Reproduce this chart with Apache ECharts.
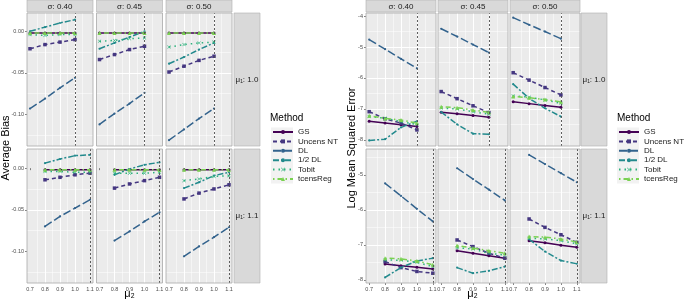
<!DOCTYPE html>
<html><head><meta charset="utf-8">
<script src="https://cdn.jsdelivr.net/npm/echarts@6/dist/echarts.min.js"></script>
<style>html,body{margin:0;padding:0;background:#fff}#c{width:685px;height:300px}</style>
</head><body><div id="c"></div>
<script>
// ---------- data ----------
const methods = ['GS', 'Uncens NT', 'DL', '1/2 DL', 'Tobit', 'tcensReg'];
const xMu10 = [0.7, 0.8, 0.9, 1.0];
const xMu11 = [0.8, 0.9, 1.0, 1.1];
const refMu2 = [1.0, 1.1];
const sigmaLabels = ['σ: 0.40', 'σ: 0.45', 'σ: 0.50'];
const mu1Labels = ['μ₁: 1.0', 'μ₁: 1.1'];
const xTicks = [0.7, 0.8, 0.9, 1.0, 1.1];
const biasTicks = [-0.10, -0.05, 0.00];
const mseTicks = [-8, -7, -6, -5, -4];

// panels order: [mu1=1.0: s0.40, s0.45, s0.50, mu1=1.1: s0.40, s0.45, s0.50]
const biasGS = [
  [-0.002, -0.002, -0.002, -0.002], [-0.002, -0.002, -0.002, -0.002], [-0.002, -0.002, -0.002, -0.002],
  [-0.002, -0.002, -0.002, -0.002], [-0.002, -0.002, -0.002, -0.002], [-0.002, -0.002, -0.002, -0.002]];
const biasUncens = [
  [-0.021, -0.016, -0.013, -0.010], [-0.034, -0.028, -0.022, -0.018], [-0.049, -0.042, -0.035, -0.030],
  [-0.014, -0.011, -0.008, -0.006], [-0.024, -0.019, -0.015, -0.011], [-0.037, -0.030, -0.025, -0.020]];
const biasDL = [
  [-0.093, -0.081, -0.068, -0.056], [-0.112, -0.099, -0.087, -0.074], [-0.131, -0.118, -0.105, -0.093],
  [-0.070, -0.058, -0.048, -0.038], [-0.087, -0.076, -0.064, -0.053], [-0.106, -0.094, -0.083, -0.071]];
const biasHalfDL = [
  [0.000, 0.005, 0.010, 0.014], [-0.021, -0.014, -0.007, 0.000], [-0.039, -0.031, -0.022, -0.014],
  [0.006, 0.011, 0.015, 0.016], [-0.008, -0.001, 0.004, 0.007], [-0.024, -0.017, -0.009, -0.005]];
const biasTobit = [
  [-0.004, -0.005, -0.004, -0.004], [-0.012, -0.011, -0.009, -0.008], [-0.019, -0.016, -0.014, -0.013],
  [-0.004, -0.004, -0.005, -0.005], [-0.006, -0.006, -0.006, -0.005], [-0.015, -0.013, -0.010, -0.009]];
const biasTcens = [
  [-0.002, -0.002, -0.002, -0.002], [-0.002, -0.002, -0.002, -0.002], [-0.002, -0.002, -0.002, -0.002],
  [-0.002, -0.002, -0.002, -0.002], [-0.002, -0.002, -0.002, -0.002], [-0.002, -0.002, -0.002, -0.002]];

const mseGS = [
  [-7.40, -7.46, -7.51, -7.57], [-7.11, -7.16, -7.21, -7.27], [-6.77, -6.83, -6.89, -6.95],
  [-7.55, -7.60, -7.64, -7.69], [-7.17, -7.24, -7.31, -7.38], [-6.88, -6.94, -7.01, -7.07]];
const mseUncens = [
  [-7.09, -7.32, -7.46, -7.68], [-6.44, -6.67, -6.90, -7.12], [-5.83, -6.07, -6.31, -6.55],
  [-7.48, -7.65, -7.76, -7.81], [-6.86, -7.05, -7.24, -7.38], [-6.26, -6.50, -6.71, -6.93]];
const mseDL = [
  [-4.76, -5.07, -5.38, -5.69], [-4.41, -4.66, -4.92, -5.18], [-4.05, -4.28, -4.50, -4.73],
  [-5.24, -5.60, -5.97, -6.33], [-4.81, -5.12, -5.42, -5.73], [-4.43, -4.69, -4.95, -5.21]];
const mseHalfDL = [
  [-8.02, -7.98, -7.60, -7.40], [-7.10, -7.50, -7.80, -7.82], [-6.20, -6.66, -6.98, -7.25],
  [-7.93, -7.65, -7.46, -7.38], [-7.65, -7.81, -7.74, -7.62], [-6.84, -7.19, -7.45, -7.54]];
const mseTobit = [
  [-7.25, -7.30, -7.41, -7.51], [-6.98, -7.00, -7.09, -7.17], [-6.58, -6.62, -6.71, -6.82],
  [-7.43, -7.44, -7.50, -7.62], [-7.08, -7.12, -7.24, -7.29], [-6.81, -6.83, -6.88, -6.97]];
const mseTcens = [
  [-7.22, -7.31, -7.36, -7.46], [-6.93, -6.96, -7.04, -7.11], [-6.60, -6.64, -6.70, -6.77],
  [-7.38, -7.40, -7.46, -7.57], [-7.02, -7.09, -7.17, -7.24], [-6.76, -6.78, -6.83, -6.92]];

// ---------- layout & styles ----------
const FONT = 'Liberation Sans, Arial, DejaVu Sans, sans-serif';
const rowTop = [13, 149], rowH = [133, 134];
const xPath = 'path://M0,1L1,0L5,4L9,0L10,1L6,5L10,9L9,10L5,6L1,10L0,9L4,5Z';
const styles = [
  {color: '#440154', type: 'solid', symbol: 'circle', size: 3},
  {color: '#453781', type: [4, 3], symbol: 'rect', size: 3.5},
  {color: '#33638D', type: [8, 3], symbol: 'circle', size: 2.2},
  {color: '#238A8D', type: [6, 2, 2, 2], symbol: 'circle', size: 2.2},
  {color: '#2DB27D', type: [1.5, 4], symbol: xPath, size: 3.5},
  {color: '#7AD151', type: [1.5, 3, 5, 3], symbol: 'triangle', size: 4}
];
const layouts = [
  {cols: [27, 96.5, 166], w: 66, stripX: 234, stripW: 26, yMin: [-0.138, -0.138], yMax: [0.022, 0.023],
   split: 3, ticks: biasTicks, fmt: v => v.toFixed(2), title: 'Average Bias', titleX: 6, center: 129.5,
   legendX: 272, legendTitleX: 270, data: [biasGS, biasUncens, biasDL, biasHalfDL, biasTobit, biasTcens]},
  {cols: [366, 438, 510], w: 70, stripX: 581, stripW: 26, yMin: [-8.2, -8.09], yMax: [-3.9, -4.26],
   split: 4, ticks: mseTicks, fmt: v => String(Math.round(v)), title: 'Log Mean Squared Error', titleX: 352, center: 472.5,
   legendX: 618, legendTitleX: 617, data: [mseGS, mseUncens, mseDL, mseHalfDL, mseTobit, mseTcens]}
];
const xsByRow = [xMu10, xMu11];

const grids = [], xAxes = [], yAxes = [], series = [], graphics = [];
layouts.forEach((L, c) => {
  for (let r = 0; r < 2; r++) {
    for (let k = 0; k < 3; k++) {
      const gi = grids.length;
      const left = L.cols[k];
      grids.push({left: left, top: rowTop[r], width: L.w, height: rowH[r], show: true,
        backgroundColor: '#EBEBEB', borderWidth: 0, containLabel: false, outerBoundsMode: 'none'});
      xAxes.push({type: 'value', gridIndex: gi, min: 0.68, max: 1.12, splitNumber: 4,
        axisLine: {show: false},
        axisTick: {show: r === 1, length: 2, customValues: xTicks, lineStyle: {color: '#333', width: 0.6}},
        axisLabel: {show: r === 1, customValues: xTicks, fontSize: 5.5, color: '#4D4D4D', margin: 3, fontFamily: FONT,
          hideOverlap: false, formatter: v => v.toFixed(1)},
        splitLine: {show: true, showMinLine: false, showMaxLine: false, lineStyle: {color: '#FFFFFF', width: 1}},
        minorTick: {show: false, splitNumber: 2},
        minorSplitLine: {show: true, lineStyle: {color: '#FFFFFF', width: 0.5}}});
      const yt = L.ticks.filter(v => v >= L.yMin[r] && v <= L.yMax[r]);
      yAxes.push({type: 'value', gridIndex: gi, min: L.yMin[r], max: L.yMax[r], splitNumber: L.split,
        axisLine: {show: false},
        axisTick: {show: k === 0, length: 2, customValues: yt, lineStyle: {color: '#333', width: 0.6}},
        axisLabel: {show: k === 0, customValues: yt, fontSize: 5.5, color: '#4D4D4D', margin: 3, fontFamily: FONT,
          hideOverlap: false, formatter: L.fmt},
        splitLine: {show: true, showMinLine: false, showMaxLine: false, lineStyle: {color: '#FFFFFF', width: 1}},
        minorTick: {show: false, splitNumber: 2},
        minorSplitLine: {show: true, lineStyle: {color: '#FFFFFF', width: 0.5}}});
      const p = r * 3 + k;
      methods.forEach((m, mi) => {
        const st = styles[mi];
        const s = {type: 'line', name: m, xAxisIndex: gi, yAxisIndex: gi,
          data: xsByRow[r].map((x, i) => [x, L.data[mi][p][i]]),
          symbol: st.symbol, symbolSize: st.size, showSymbol: true,
          lineStyle: {color: st.color, width: 1.5, type: st.type},
          itemStyle: {color: st.color},
          emphasis: {disabled: true}, silent: true, animation: false, z: 2 + mi * 0.01};
        if (mi === 0) {
          s.markLine = {silent: true, symbol: ['none', 'none'], label: {show: false}, animation: false,
            lineStyle: {color: '#4D4D4D', type: [2, 2], width: 0.9},
            data: [{xAxis: refMu2[r]}]};
        }
        series.push(s);
      });
      // panel border
      graphics.push({type: 'rect', z: 100, silent: true,
        shape: {x: left, y: rowTop[r], width: L.w, height: rowH[r]},
        style: {fill: 'none', stroke: '#A8A8A8', lineWidth: 0.8}});
    }
    // right strip
    graphics.push({type: 'rect', silent: true, shape: {x: L.stripX, y: rowTop[r], width: L.stripW, height: rowH[r]},
      style: {fill: '#D9D9D9', stroke: '#B0B0B0', lineWidth: 0.6}});
    graphics.push({type: 'text', silent: true, x: L.stripX + L.stripW / 2, y: rowTop[r] + rowH[r] / 2,
      style: {text: mu1Labels[r], fill: '#1A1A1A', font: '8px ' + FONT, align: 'center', verticalAlign: 'middle',
        textAlign: 'center', textVerticalAlign: 'middle'}});
  }
  // top strips
  for (let k = 0; k < 3; k++) {
    graphics.push({type: 'rect', silent: true, shape: {x: L.cols[k], y: 0, width: L.w, height: 12},
      style: {fill: '#D9D9D9', stroke: '#B0B0B0', lineWidth: 0.6}});
    graphics.push({type: 'text', silent: true, x: L.cols[k] + L.w / 2, y: 6.5,
      style: {text: sigmaLabels[k], fill: '#1A1A1A', font: '8px ' + FONT, align: 'center', verticalAlign: 'middle',
        textAlign: 'center', textVerticalAlign: 'middle'}});
  }
  // axis titles
  graphics.push({type: 'text', silent: true, x: L.titleX, y: 148, rotation: Math.PI / 2,
    style: {text: L.title, fill: '#000', font: '11px ' + FONT, align: 'center', verticalAlign: 'middle',
      textAlign: 'center', textVerticalAlign: 'middle'}});
  graphics.push({type: 'text', silent: true, x: L.center, y: 294,
    style: {text: 'μ₂', fill: '#000', font: '11px ' + FONT, align: 'center', verticalAlign: 'middle',
      textAlign: 'center', textVerticalAlign: 'middle'}});
  // legend title and key background
  graphics.push({type: 'text', silent: true, x: L.legendTitleX, y: 118,
    style: {text: 'Method', fill: '#000', font: '10px ' + FONT, align: 'left', verticalAlign: 'middle',
      textAlign: 'left', textVerticalAlign: 'middle'}});
  graphics.push({type: 'rect', silent: true, z: -1, shape: {x: L.legendX - 1, y: 127.5, width: 22, height: 56},
    style: {fill: '#F2F2F2'}});
});

const legends = layouts.map(L => ({
  data: methods, orient: 'vertical', left: L.legendX, top: 128, itemWidth: 20, itemHeight: 5, itemGap: 1.4,
  padding: 0, selectedMode: false, textStyle: {fontSize: 8, color: '#1A1A1A', fontFamily: FONT, lineHeight: 8}
}));

const chart = echarts.init(document.getElementById('c'), null, {renderer: 'canvas', width: 685, height: 300});
chart.setOption({
  animation: false,
  backgroundColor: '#FFFFFF',
  textStyle: {fontFamily: FONT},
  grid: grids, xAxis: xAxes, yAxis: yAxes, series: series,
  legend: legends, graphic: graphics
});
</script></body></html>
